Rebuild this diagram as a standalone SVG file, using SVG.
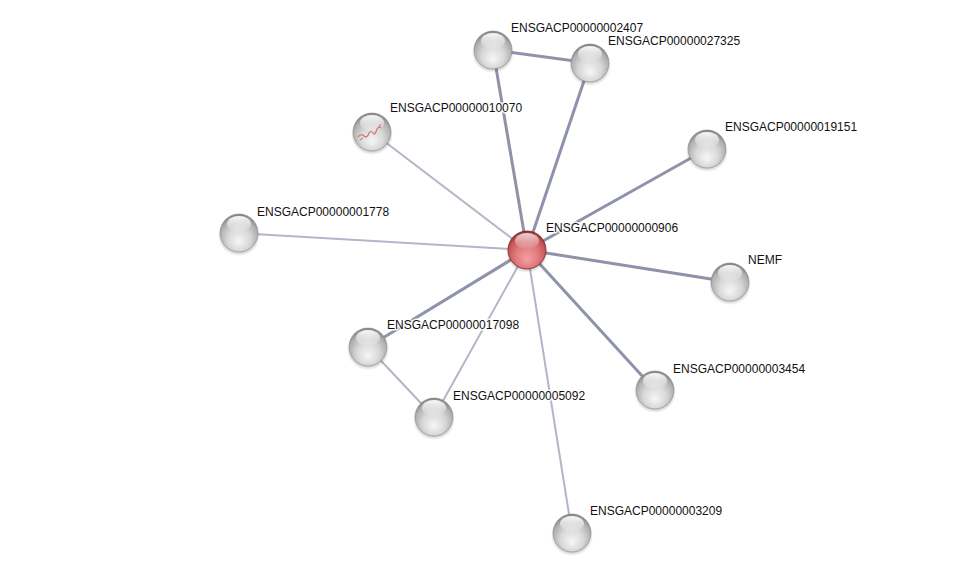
<svg xmlns="http://www.w3.org/2000/svg" width="976" height="578" viewBox="0 0 976 578">
<defs>
<radialGradient id="gBall" cx="0.5" cy="0.6" r="0.6" fx="0.5" fy="0.75">
<stop offset="0" stop-color="#f6f6f6"/>
<stop offset="0.5" stop-color="#d8d8d8"/>
<stop offset="0.82" stop-color="#b0b0b0"/>
<stop offset="1" stop-color="#7c7c7c"/>
</radialGradient>
<radialGradient id="rBall" cx="0.5" cy="0.6" r="0.6" fx="0.5" fy="0.75">
<stop offset="0" stop-color="#f4a0a2"/>
<stop offset="0.5" stop-color="#e07a7d"/>
<stop offset="0.82" stop-color="#c5555a"/>
<stop offset="1" stop-color="#8e2a2e"/>
</radialGradient>
<linearGradient id="hl" x1="0" y1="0" x2="0" y2="1">
<stop offset="0" stop-color="#ffffff" stop-opacity="0.95"/>
<stop offset="1" stop-color="#ffffff" stop-opacity="0.05"/>
</linearGradient>
<radialGradient id="shadow" cx="0.5" cy="0.5" r="0.5">
<stop offset="0.7" stop-color="#000" stop-opacity="0.3"/>
<stop offset="1" stop-color="#000" stop-opacity="0"/>
</radialGradient>
<g id="ball">
<ellipse cx="0" cy="3" rx="21" ry="20" fill="url(#shadow)"/>
<circle r="19" fill="url(#gBall)" stroke="#8a8a8a" stroke-width="0.6"/>
<ellipse cx="0" cy="-9" rx="12" ry="8" fill="url(#hl)"/>
</g>
<g id="rball">
<ellipse cx="0" cy="3" rx="21" ry="20" fill="url(#shadow)"/>
<circle r="19" fill="url(#rBall)" stroke="#7e2226" stroke-width="0.8"/>
<ellipse cx="0" cy="-9" rx="12" ry="8" fill="url(#hl)" opacity="0.8"/>
</g>
</defs>
<style>
.e1{stroke:#8f93a9;stroke-width:3;fill:none}
.e2{stroke:#b3b5c8;stroke-width:2;fill:none}
text{font-family:"Liberation Sans",Arial,sans-serif;font-size:12px;fill:#111;stroke:#ffffff;stroke-width:3;stroke-opacity:0.85;paint-order:stroke;stroke-linejoin:round}
</style>
<rect width="976" height="578" fill="#ffffff"/>
<g id="edges">
<line class="e1" x1="493" y1="50" x2="590" y2="63"/>
<line class="e1" x1="527" y1="250" x2="493" y2="50"/>
<line class="e1" x1="527" y1="250" x2="590" y2="63"/>
<line class="e1" x1="527" y1="250" x2="707" y2="149"/>
<line class="e1" x1="527" y1="250" x2="730" y2="282"/>
<line class="e1" x1="527" y1="250" x2="655" y2="390"/>
<line class="e1" x1="527" y1="250" x2="368" y2="347"/>
<line class="e2" x1="527" y1="250" x2="372" y2="132"/>
<line class="e2" x1="527" y1="250" x2="239" y2="233"/>
<line class="e2" x1="527" y1="250" x2="434" y2="417"/>
<line class="e2" x1="527" y1="250" x2="572" y2="533"/>
<line class="e2" x1="368" y1="347" x2="434" y2="417"/>
</g>
<g id="n2407"><use href="#ball" x="493" y="50"/><text x="511" y="32">ENSGACP00000002407</text></g>
<g id="n27325"><use href="#ball" x="590" y="63"/><text x="608" y="45">ENSGACP00000027325</text></g>
<g id="n10070"><use href="#ball" x="372" y="132"/>
<path d="M358,137 q3,-4 6,-1 t5,-3 q2,-3 4,0 t4,-4 q2,-3 4,-1" fill="none" stroke="#d56a6e" stroke-width="1.1"/>
<path d="M360,140 l3,-2 M379,127 l2,-3" fill="none" stroke="#c05055" stroke-width="0.8"/>
<text x="390" y="112">ENSGACP00000010070</text></g>
<g id="n19151"><use href="#ball" x="707" y="149"/><text x="725" y="131">ENSGACP00000019151</text></g>
<g id="n1778"><use href="#ball" x="239" y="233"/><text x="257" y="216">ENSGACP00000001778</text></g>
<g id="n906"><use href="#rball" x="527" y="250"/><text x="546" y="232">ENSGACP00000000906</text></g>
<g id="nNEMF"><use href="#ball" x="730" y="282"/><text x="748" y="264">NEMF</text></g>
<g id="n17098"><use href="#ball" x="368" y="347"/><text x="387" y="329">ENSGACP00000017098</text></g>
<g id="n5092"><use href="#ball" x="434" y="417"/><text x="453" y="400">ENSGACP00000005092</text></g>
<g id="n3454"><use href="#ball" x="655" y="390"/><text x="673" y="373">ENSGACP00000003454</text></g>
<g id="n3209"><use href="#ball" x="572" y="533"/><text x="590" y="515">ENSGACP00000003209</text></g>
</svg>
